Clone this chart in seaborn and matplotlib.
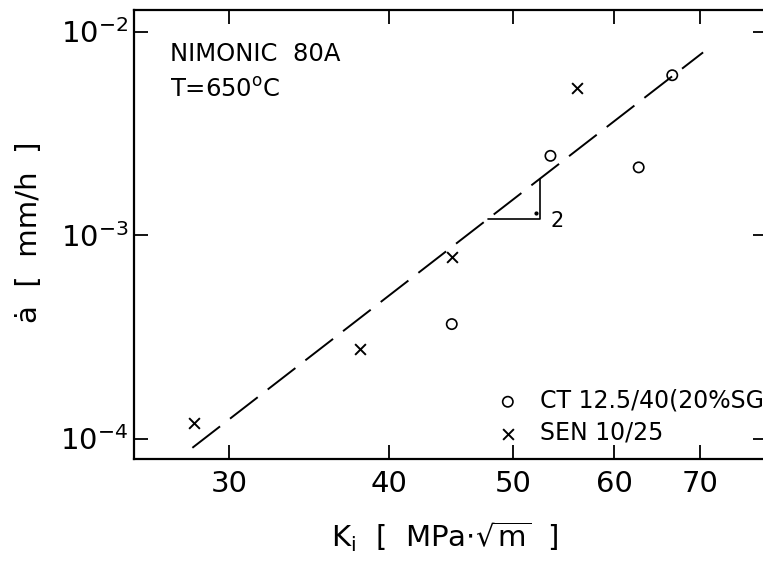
import matplotlib
matplotlib.use("Agg")
import numpy as np
import pandas as pd
import matplotlib.pyplot as plt
import matplotlib.ticker as mticker
import seaborn as sns

# data (K_i in MPa*sqrt(m), crack growth rate in mm/h)
ct_k = [44.8, 53.5, 62.7, 66.6]
ct_rate = [3.65e-4, 2.45e-3, 2.15e-3, 6.1e-3]
sen_k = [28.2, 38.0, 44.8, 56.1]
sen_rate = [1.19e-4, 2.75e-4, 7.8e-4, 5.3e-3]

# dashed fit line, end points
fit_k = [28.1, 70.4]
fit_rate = [9.0e-5, 7.9e-3]

# slope triangle
tri_k = [47.8, 52.5, 52.5]
tri_rate = [1.194e-3, 1.194e-3, 1.878e-3]

ct_label = "CT 12.5/40(20%SG)"
sen_label = "SEN 10/25"

sns.set_style("ticks")
plt.rcParams['font.family'] = ['DejaVu Sans']
plt.rcParams['mathtext.fontset'] = 'dejavusans'
plt.rcParams['text.color'] = 'black'
plt.rcParams['axes.labelcolor'] = 'black'
plt.rcParams['axes.edgecolor'] = 'black'
plt.rcParams['xtick.color'] = 'black'
plt.rcParams['ytick.color'] = 'black'

fig = plt.figure(figsize=(7.63, 5.63), dpi=100)
ax = fig.add_axes([134 / 763, 104 / 563, 633.2 / 763, 449 / 563])

ct = pd.DataFrame({"K": ct_k, "rate": ct_rate})
sen = pd.DataFrame({"K": sen_k, "rate": sen_rate})
fit = pd.DataFrame({"K": fit_k, "rate": fit_rate})

sns.lineplot(data=fit, x="K", y="rate", ax=ax, color="black", lw=1.4,
             linestyle=(0, (18, 6.5)), sort=False)
ax.plot(tri_k, tri_rate, color="black", lw=1.2)
ax.plot([52.1], [1.287e-3], marker="o", ms=2, color="black")
ax.text(54.1, 1.172e-3, "2", fontsize=15, ha="center", va="center")

sns.scatterplot(data=ct, x="K", y="rate", ax=ax, marker="o", s=55,
                facecolor="none", edgecolor="black", linewidth=1.2,
                label=ct_label, zorder=3)
sns.scatterplot(data=sen, x="K", y="rate", ax=ax, marker="x", s=60,
                color="black", linewidth=1.4, label=sen_label, zorder=3)

ax.set_xscale("log")
ax.set_yscale("log")
ax.set_xlim(25.3, 79)
ax.set_ylim(7.93e-5, 1.276e-2)

ax.xaxis.set_major_locator(mticker.FixedLocator([30, 40, 50, 60, 70]))
ax.xaxis.set_major_formatter(mticker.FixedFormatter(["30", "40", "50", "60", "70"]))
ax.xaxis.set_minor_locator(mticker.NullLocator())
ax.yaxis.set_major_locator(mticker.LogLocator(base=10))
ax.yaxis.set_minor_locator(mticker.NullLocator())

ax.tick_params(which="major", direction="in", length=10, width=1.3,
               top=True, right=True, labelsize=21)
ax.tick_params(axis="x", pad=8)
ax.tick_params(axis="y", pad=4)
for sp in ax.spines.values():
    sp.set_linewidth(1.6)

ax.set_xlabel(r"K$_{\rm i}$  [  MPa$\cdot\sqrt{\rm m}$  ]", fontsize=21)
ax.set_ylabel("ȧ  [  mm/h  ]", fontsize=21)
ax.xaxis.set_label_coords(0.491, -0.135, transform=ax.transAxes)
ax.yaxis.set_label_coords(-0.143, 0.506, transform=ax.transAxes)

ax.text(0.057, 0.902, "NIMONIC  80A", transform=ax.transAxes,
        fontsize=17.5, va="center")
ax.text(0.057, 0.822, r"T=650$^{\rm o}$C", transform=ax.transAxes,
        fontsize=17.5, va="center")

ax.legend(frameon=False, loc="upper left", bbox_to_anchor=(0.5717, 0.156),
          borderpad=0, borderaxespad=0, handlelength=1.0, handletextpad=0.85,
          labelspacing=0.33, fontsize=17)

fig.savefig("out.png", dpi=100)
